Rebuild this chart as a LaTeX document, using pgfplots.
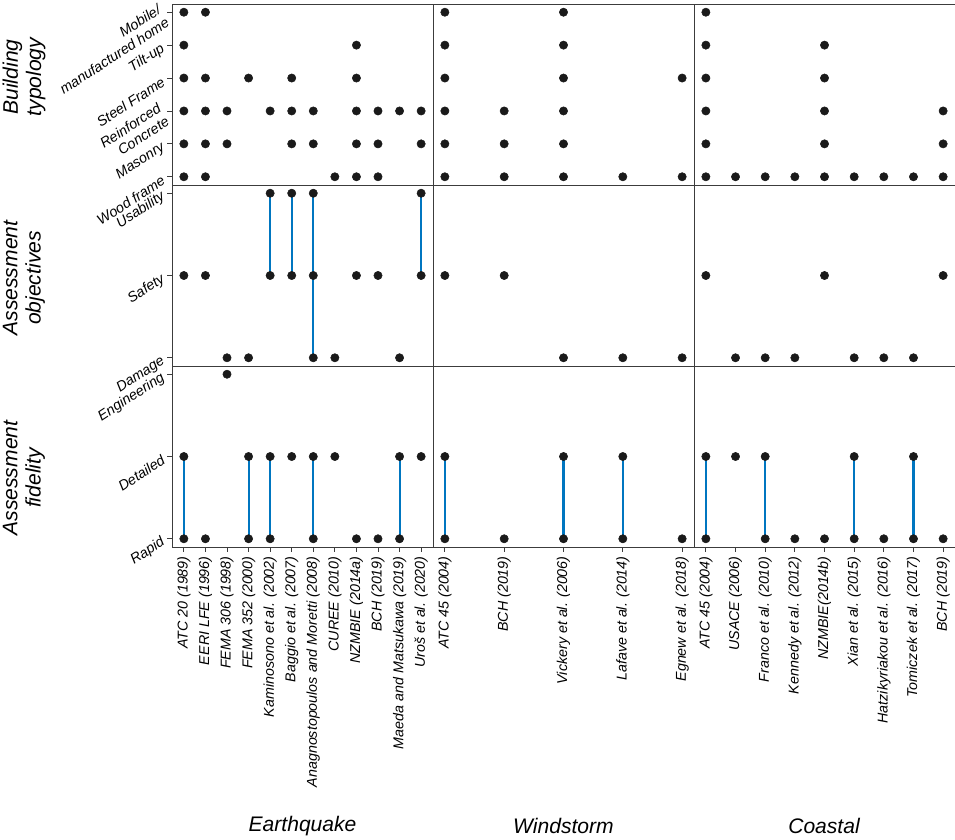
\documentclass[border=0pt]{standalone}
\usepackage{fontspec}
\setmainfont{Liberation Sans}
\usepackage{pgfplots}
\pgfplotsset{compat=1.18}

\definecolor{dotc}{RGB}{26,26,26}
\definecolor{linkc}{RGB}{0,118,192}
\definecolor{framec}{RGB}{60,60,60}

\pgfplotsset{
  panel/.style={
    scale only axis, width=195.75pt, height=135.75pt,
    anchor=north west,
    axis line style={framec, line width=0.7pt},
    tick align=outside, major tick length=3.5pt,
    xtick pos=bottom, ytick pos=left,
    tick style={framec, line width=0.6pt},
    xtick=\empty, ytick=\empty,
    tick label style={font=\fontsize{10.7}{11.6}\selectfont\itshape},
    xticklabel style={rotate=90, anchor=east},
    yticklabel style={rotate=33, anchor=east, align=right},
  },
  eq/.style={xmin=-0.55, xmax=11.55},
  ws/.style={xmin=-0.2, xmax=4.2},
  co/.style={xmin=-0.4, xmax=8.4},
  bt/.style={ymin=-0.25, ymax=5.25},
  three/.style={ymin=-0.1, ymax=2.1},
  dots/.style={only marks, mark=*, mark size=3.1pt, color=dotc},
  link/.style={color=linkc, line width=1.6pt, mark=none},
}

\newcommand{\titlefont}{\fontsize{15.8}{17.5}\selectfont\itshape}

\begin{document}
\begin{tikzpicture}
\useasboundingbox (0pt,0pt) rectangle (716.25pt,-629.25pt);

% ---------- row 1: building typology ----------
\begin{axis}[panel, eq, bt, at={(129pt,-3pt)},
  ytick={0,...,5},
  yticklabels={Wood frame, Masonry, {Reinforced\\Concrete}, Steel Frame, Tilt-up, {Mobile/\\manufactured home}}]
\addplot[dots] coordinates {
  (0,5)(1,5)
  (0,4)(8,4)
  (0,3)(1,3)(3,3)(5,3)(8,3)
  (0,2)(1,2)(2,2)(4,2)(5,2)(6,2)(8,2)(9,2)(10,2)(11,2)
  (0,1)(1,1)(2,1)(5,1)(6,1)(8,1)(9,1)(11,1)
  (0,0)(1,0)(7,0)(8,0)(9,0)
};
\end{axis}

\begin{axis}[panel, ws, bt, at={(324.75pt,-3pt)}]
\addplot[dots] coordinates {
  (0,5)(2,5)
  (0,4)(2,4)
  (0,3)(2,3)(4,3)
  (0,2)(1,2)(2,2)
  (0,1)(1,1)(2,1)
  (0,0)(1,0)(2,0)(3,0)(4,0)
};
\end{axis}

\begin{axis}[panel, co, bt, at={(520.5pt,-3pt)}]
\addplot[dots] coordinates {
  (0,5)
  (0,4)(4,4)
  (0,3)(4,3)
  (0,2)(4,2)(8,2)
  (0,1)(4,1)(8,1)
  (0,0)(1,0)(2,0)(3,0)(4,0)(5,0)(6,0)(7,0)(8,0)
};
\end{axis}

% ---------- row 2: assessment objectives ----------
\begin{axis}[panel, eq, three, at={(129pt,-138.75pt)},
  ytick={0,1,2}, yticklabels={Damage, Safety, Usability}]
\addplot[link] coordinates {(4,1)(4,2)};
\addplot[link] coordinates {(5,1)(5,2)};
\addplot[link] coordinates {(6,0)(6,2)};
\addplot[link] coordinates {(11,1)(11,2)};
\addplot[dots] coordinates {
  (4,2)(5,2)(6,2)(11,2)
  (0,1)(1,1)(4,1)(5,1)(6,1)(8,1)(9,1)(11,1)
  (2,0)(3,0)(6,0)(7,0)(10,0)
};
\end{axis}

\begin{axis}[panel, ws, three, at={(324.75pt,-138.75pt)}]
\addplot[dots] coordinates {
  (0,1)(1,1)
  (2,0)(3,0)(4,0)
};
\end{axis}

\begin{axis}[panel, co, three, at={(520.5pt,-138.75pt)}]
\addplot[dots] coordinates {
  (0,1)(4,1)(8,1)
  (1,0)(2,0)(3,0)(5,0)(6,0)(7,0)
};
\end{axis}

% ---------- row 3: assessment fidelity ----------
\begin{axis}[panel, eq, three, at={(129pt,-274.5pt)},
  ytick={0,1,2}, yticklabels={Rapid, Detailed, Engineering},
  xtick={0,...,11},
  xticklabels={ATC 20 (1989), EERI LFE (1996), FEMA 306 (1998), FEMA 352 (2000),
    Kaminosono et al. (2002), Baggio et al. (2007), Anagnostopoulos and Moretti (2008),
    CUREE (2010), NZMBIE (2014a), BCH (2019), Maeda and Matsukawa (2019), Uroš et al. (2020)}]
\addplot[link] coordinates {(0,0)(0,1)};
\addplot[link] coordinates {(3,0)(3,1)};
\addplot[link] coordinates {(4,0)(4,1)};
\addplot[link] coordinates {(6,0)(6,1)};
\addplot[link] coordinates {(10,0)(10,1)};
\addplot[dots] coordinates {
  (2,2)
  (0,1)(3,1)(4,1)(5,1)(6,1)(7,1)(10,1)(11,1)
  (0,0)(1,0)(3,0)(4,0)(6,0)(8,0)(9,0)(10,0)
};
\end{axis}

\begin{axis}[panel, ws, three, at={(324.75pt,-274.5pt)},
  xtick={0,...,4},
  xticklabels={ATC 45 (2004), BCH (2019), Vickery et al. (2006), Lafave et al. (2014), Egnew et al. (2018)}]
\addplot[link] coordinates {(0,0)(0,1)};
\addplot[link] coordinates {(2,0)(2,1)};
\addplot[link] coordinates {(3,0)(3,1)};
\addplot[dots] coordinates {
  (0,1)(2,1)(3,1)
  (0,0)(1,0)(2,0)(3,0)(4,0)
};
\end{axis}

\begin{axis}[panel, co, three, at={(520.5pt,-274.5pt)},
  xtick={0,...,8},
  xticklabels={ATC 45 (2004), USACE (2006), Franco et al. (2010), Kennedy et al. (2012),
    NZMBIE(2014b), Xian et al. (2015), Hatzikyriakou et al. (2016), Tomiczek et al. (2017), BCH (2019)}]
\addplot[link] coordinates {(0,0)(0,1)};
\addplot[link] coordinates {(2,0)(2,1)};
\addplot[link] coordinates {(5,0)(5,1)};
\addplot[link] coordinates {(7,0)(7,1)};
\addplot[dots] coordinates {
  (0,1)(1,1)(2,1)(5,1)(7,1)
  (0,0)(2,0)(3,0)(4,0)(5,0)(6,0)(7,0)(8,0)
};
\end{axis}

% ---------- group titles ----------
\node[rotate=90, align=center, font=\titlefont] at (18pt,-57.75pt) {Building\\typology};
\node[rotate=90, align=center, font=\titlefont] at (18pt,-208.5pt) {Assessment\\objectives};
\node[rotate=90, align=center, font=\titlefont] at (18pt,-358.5pt) {Assessment\\fidelity};

\node[font=\titlefont] at (226.9pt,-619.5pt) {Earthquake};
\node[font=\titlefont] at (422.6pt,-619.5pt) {Windstorm};
\node[font=\titlefont] at (618pt,-619.5pt) {Coastal};
\end{tikzpicture}
\end{document}
